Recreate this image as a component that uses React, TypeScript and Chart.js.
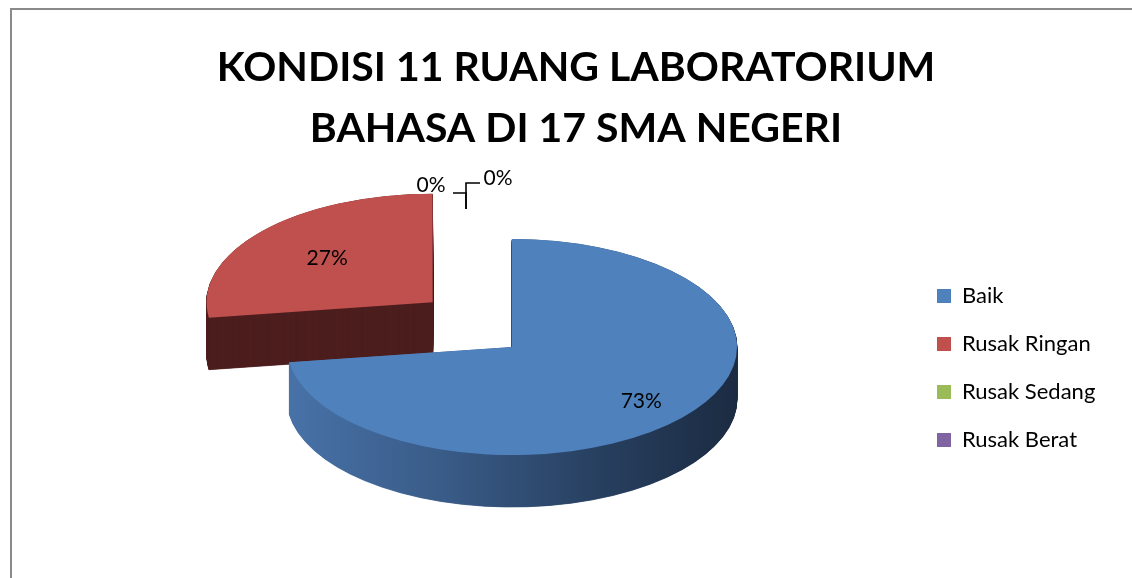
import { useEffect, useRef } from 'react';
import { Chart, registerables } from 'chart.js';

Chart.register(...registerables);

// ---- data ----
const TITLE_LINES = ['KONDISI 11 RUANG LABORATORIUM', 'BAHASA DI 17 SMA NEGERI'];
const CATEGORIES = ['Baik', 'Rusak Ringan', 'Rusak Sedang', 'Rusak Berat'];
const ROOMS = [8, 3, 0, 0];
const TOP_COLORS = ['#4F81BD', '#C0504D', '#9BBB59', '#8064A2'];
const SIDE_COLORS = ['#2f4b70', '#4d1e1e', '#5d7033', '#4c3b61'];
const EXPLODE = [0, 420, 0, 0];
const LABEL_POS = [0.76, 0.62, 0, 0];

// ---- 3D look ----
const TILT = 0.48;
const DEPTH = 52;
const OFFSET_DIV = 4; // Chart.js v4 arc draws offset / 4
const EXPLODE_LIFT = 0.17; // extra vertical lift of exploded slices (perspective)
const FONT = 'Lato';
const LEGEND_SIZE = 22;
const LEGEND_BOX = 14;
const LEGEND_PAD = 26;

const pct = (i: number) => {
  const total = ROOMS.reduce((a, b) => a + b, 0);
  return Math.round((ROOMS[i] / total) * 100) + '%';
};

const liftOf = (a: any) => {
  const mid = (a.startAngle + a.endAngle) / 2;
  return Math.sin(mid) * ((a.options.offset || 0) / OFFSET_DIV) * EXPLODE_LIFT;
};

const pie3d = {
  id: 'pie3d',
  beforeDatasetsDraw(chart: any) {
    const meta = chart.getDatasetMeta(0);
    const arcs = meta.data as any[];
    const ctx: CanvasRenderingContext2D = chart.ctx;
    if (!arcs.length) return;
    const cx = arcs[0].x;
    const cy = arcs[0].y;
    const r = arcs[0].outerRadius;
    if (!isFinite(cx) || !isFinite(cy) || !isFinite(r)) return;
    const grad = ctx.createLinearGradient(cx - r, 0, cx + r, 0);
    grad.addColorStop(0, '#4872a8');
    grad.addColorStop(0.35, '#395b87');
    grad.addColorStop(0.7, '#273f5f');
    grad.addColorStop(1, '#1b2b42');

    const order = arcs
      .map((a, i) => ({ a, i, s: Math.sin((a.startAngle + a.endAngle) / 2) }))
      .filter((o) => o.a.circumference > 0)
      .sort((p, q) => p.s - q.s);

    const apply = (d: number) => {
      ctx.translate(0, d);
      ctx.translate(cx, cy);
      ctx.scale(1, TILT);
      ctx.translate(-cx, -cy);
    };

    for (const { a, i } of order) {
      const lift = liftOf(a);
      const sideColor = i === 0 ? grad : SIDE_COLORS[i];
      const side: any = Object.create(a);
      side.options = { ...a.options, backgroundColor: sideColor, borderColor: sideColor, borderWidth: 1 };
      for (let d = DEPTH; d >= 0.5; d -= 0.5) {
        ctx.save();
        apply(d + lift);
        side.draw(ctx);
        ctx.restore();
      }
      ctx.save();
      apply(lift);
      a.draw(ctx);
      ctx.restore();
    }
    return false;
  },
  afterDraw(chart: any) {
    const meta = chart.getDatasetMeta(0);
    const arcs = meta.data as any[];
    const ctx: CanvasRenderingContext2D = chart.ctx;
    if (!arcs.length) return;
    const cx = arcs[0].x;
    const cy = arcs[0].y;
    const r = arcs[0].outerRadius;
    ctx.save();
    ctx.fillStyle = '#000';
    ctx.font = `21px ${FONT}`;
    ctx.textAlign = 'center';
    ctx.textBaseline = 'middle';
    const zeros: { i: number; x: number; y: number }[] = [];
    arcs.forEach((a, i) => {
      const mid = (a.startAngle + a.endAngle) / 2;
      if (ROOMS[i] > 0) {
        const rr = (a.options.offset || 0) / OFFSET_DIV + LABEL_POS[i] * r;
        ctx.fillText(pct(i), cx + Math.cos(mid) * rr, cy + Math.sin(mid) * rr * TILT + liftOf(a));
      } else {
        zeros.push({ i, x: cx + Math.cos(a.startAngle) * r, y: cy + Math.sin(a.startAngle) * r * TILT });
      }
    });
    if (zeros.length) {
      const px = zeros[0].x - 46;
      const py = zeros[0].y - 30;
      ctx.strokeStyle = '#000';
      ctx.lineWidth = 1.6;
      zeros.forEach((z, k) => {
        const left = k % 2 === 0;
        const ly = left ? py - 16 : py - 26;
        ctx.beginPath();
        ctx.moveTo(px + (left ? -13 : 14), ly);
        ctx.lineTo(px, ly);
        ctx.lineTo(px, py);
        ctx.stroke();
        ctx.fillText(pct(z.i), left ? px - 35 : px + 32, left ? py - 24 : py - 31);
      });
    }
    ctx.restore();
  },
};

export default function App() {
  const ref = useRef<HTMLCanvasElement>(null);
  useEffect(() => {
    let chart: Chart | null = null;
    let cancelled = false;
    const make = () => {
      if (cancelled || !ref.current) return;
      // legend width as Chart.js computes it, so the pie and title centres can be placed
      const mctx = document.createElement('canvas').getContext('2d') as CanvasRenderingContext2D;
      mctx.font = `${LEGEND_SIZE}px ${FONT}`;
      const tw = Math.max(...CATEGORIES.map((t) => mctx.measureText(t).width));
      const legW = LEGEND_PAD + LEGEND_BOX + LEGEND_SIZE / 2 + tw + 10;
      const padR = 1130 + 12 + LEGEND_PAD - 937 - legW;
      const padL = padR - 2;
      const spacer = legW - 128;
      chart = new Chart(ref.current, {
        type: 'pie',
        data: {
          labels: CATEGORIES,
          datasets: [
            {
              data: ROOMS,
              backgroundColor: TOP_COLORS,
              borderWidth: 0,
              offset: EXPLODE,
              radius: 225,
              cutout: '0%',
              clip: false,
            } as any,
          ],
        },
        options: {
          animation: false,
          responsive: false,
          events: [],
          layout: { padding: { left: padL, right: padR, top: 0, bottom: 89 } },
          plugins: {
            title: {
              display: true,
              text: TITLE_LINES,
              color: '#000',
              font: { family: FONT, size: 41, weight: 'bold', lineHeight: 1.5 },
              padding: { top: 27, bottom: 13 },
            },
            subtitle: {
              display: true,
              position: 'left',
              text: ' ',
              font: { size: 10, lineHeight: 1 },
              padding: Math.max(0, (spacer - 10) / 2),
            },
            legend: {
              position: 'right',
              fullSize: false,
              title: { display: true, text: ' ', font: { size: 12, lineHeight: 1 }, padding: 15 },
              labels: {
                boxWidth: LEGEND_BOX,
                boxHeight: LEGEND_BOX,
                padding: LEGEND_PAD,
                color: '#000',
                font: { family: FONT, size: LEGEND_SIZE },
              },
            },
            tooltip: { enabled: false },
          },
        } as any,
        plugins: [pie3d as any],
      });
    };
    const fonts: any = (document as any).fonts;
    if (fonts && fonts.load) {
      Promise.all([fonts.load(`bold 41px ${FONT}`), fonts.load(`21px ${FONT}`), fonts.load(`22px ${FONT}`)]).then(make, make);
    } else {
      make();
    }
    return () => {
      cancelled = true;
      if (chart) chart.destroy();
    };
  }, []);
  return (
    <div style={{ position: 'fixed', inset: 0, overflow: 'hidden', background: '#fff' }}>
      <div
        style={{
          position: 'absolute',
          left: 10,
          top: 8,
          width: 1200,
          height: 700,
          borderLeft: '2px solid #8a8a8a',
          borderTop: '2px solid #8a8a8a',
        }}
      >
        <canvas ref={ref} width={1130} height={600} style={{ display: 'block', width: 1130, height: 600 }} />
      </div>
    </div>
  );
}
